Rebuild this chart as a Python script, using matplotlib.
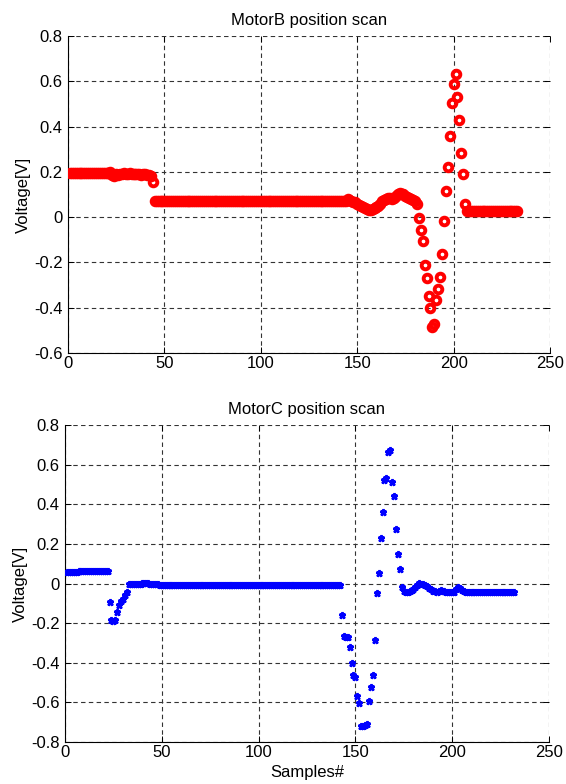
import numpy as np
import matplotlib
matplotlib.use("Agg")
import matplotlib.pyplot as plt

plt.rcParams['font.family'] = ['Liberation Sans', 'DejaVu Sans']

## MotorB readings (sample 1..233)
motorB = ([0.195] * 21
          + [0.2, 0.185, 0.18, 0.19, 0.185]
          + [0.19, 0.19, 0.195, 0.19, 0.19, 0.195, 0.19, 0.19, 0.19, 0.19, 0.19, 0.188, 0.19, 0.19, 0.188, 0.185]
          + [0.18, 0.157]
          + [0.07] * 100
          + [0.08, 0.075, 0.07, 0.068, 0.065, 0.06, 0.055, 0.05, 0.045, 0.04, 0.035, 0.03, 0.03, 0.035, 0.04,
             0.045, 0.05, 0.06, 0.07, 0.075, 0.08, 0.085, 0.085, 0.08, 0.085, 0.095, 0.1, 0.105, 0.1, 0.1,
             0.095, 0.09, 0.085, 0.08, 0.075, 0.07, 0.06]
          + [-0.005, -0.056, -0.107, -0.211, -0.268, -0.35, -0.403, -0.485, -0.47, -0.368, -0.316, -0.265,
             -0.164, -0.016, 0.115, 0.223, 0.36, 0.502, 0.586, 0.633, 0.531, 0.43, 0.283, 0.189, 0.059]
          + [0.025] * 27)

## MotorC readings (sample 1..232)
motorC = ([0.058, 0.058, 0.059, 0.059, 0.06, 0.06, 0.061, 0.062, 0.063, 0.065, 0.064, 0.063, 0.064, 0.063,
           0.062, 0.062, 0.062, 0.061, 0.062, 0.062, 0.061, 0.062]
          + [-0.094, -0.185, -0.187, -0.182, -0.144, -0.111, -0.09, -0.078, -0.06, -0.045]
          + [-0.005, -0.004, -0.004, -0.003, -0.002, -0.001, 0.0, 0.002, 0.004, 0.005, 0.003, 0.0, -0.002,
             -0.003, -0.004, -0.005, -0.006]
          + [-0.008] * 93
          + [-0.158, -0.265, -0.268, -0.27, -0.323, -0.4, -0.46, -0.47, -0.568, -0.604, -0.72, -0.718, -0.715,
             -0.71, -0.593, -0.52, -0.46, -0.287, -0.046, 0.054, 0.228, 0.362, 0.52, 0.53, 0.665, 0.675,
             0.513, 0.444, 0.273, 0.151, 0.073, -0.019]
          + [-0.038, -0.042, -0.041, -0.04, -0.035, -0.03, -0.02, -0.008, 0.003, 0.0, -0.005, -0.01, -0.015,
             -0.022, -0.03, -0.036, -0.04, -0.041, -0.038, -0.035, -0.036, -0.04, -0.044, -0.045, -0.044,
             -0.045, -0.045, -0.03, -0.016, -0.025, -0.035, -0.04]
          + [-0.044] * 26)

xticks = [0, 50, 100, 150, 200, 250]
yticksB = [-0.6, -0.4, -0.2, 0, 0.2, 0.4, 0.6, 0.8]
yticksC = [-0.8, -0.6, -0.4, -0.2, 0, 0.2, 0.4, 0.6, 0.8]

xB = np.arange(1, len(motorB) + 1)
xC = np.arange(1, len(motorC) + 1)

fig = plt.figure(figsize=(5.66, 7.84), dpi=100)
axB = fig.add_axes([68 / 566, 1 - 353 / 784, 482 / 566, 317 / 784])
axC = fig.add_axes([65 / 566, 1 - 742 / 784, 484 / 566, 317 / 784])

axB.plot(xB, motorB, 'o', color='red', mfc='none', ms=5.5, mew=2.8, zorder=3)
axC.plot(xC, motorC, '*', color='blue', ms=5, mew=1.8, zorder=3)

gridstyle = dict(color='#333333', linestyle=(0, (4, 3)), linewidth=0.8)
fs = 12
for ax, yt in ((axB, yticksB), (axC, yticksC)):
    ax.set_xlim(xticks[0], xticks[-1])
    ax.set_ylim(yt[0], yt[-1])
    ax.set_xticks(xticks)
    ax.set_yticks(yt)
    ax.set_yticklabels([str(v) for v in yt])
    ax.grid(True, **gridstyle)
    ax.set_axisbelow(True)
    ax.spines['top'].set_visible(False)
    ax.spines['right'].set_visible(False)
    ax.spines['left'].set_linewidth(0.8)
    ax.spines['bottom'].set_linewidth(0.8)
    ax.tick_params(direction='in', length=4, width=0.7, labelsize=fs, top=True, right=True)
    ax.tick_params(axis='x', pad=2)
    ax.tick_params(axis='y', pad=4)
    ax.set_ylabel('Voltage[V]', fontsize=fs, labelpad=2)

axB.set_title('MotorB position scan', fontsize=fs, pad=8)
axC.set_title('MotorC position scan', fontsize=fs, pad=8)
axC.set_xlabel('Samples#', fontsize=fs, labelpad=4)

fig.savefig('out.png', dpi=100)
